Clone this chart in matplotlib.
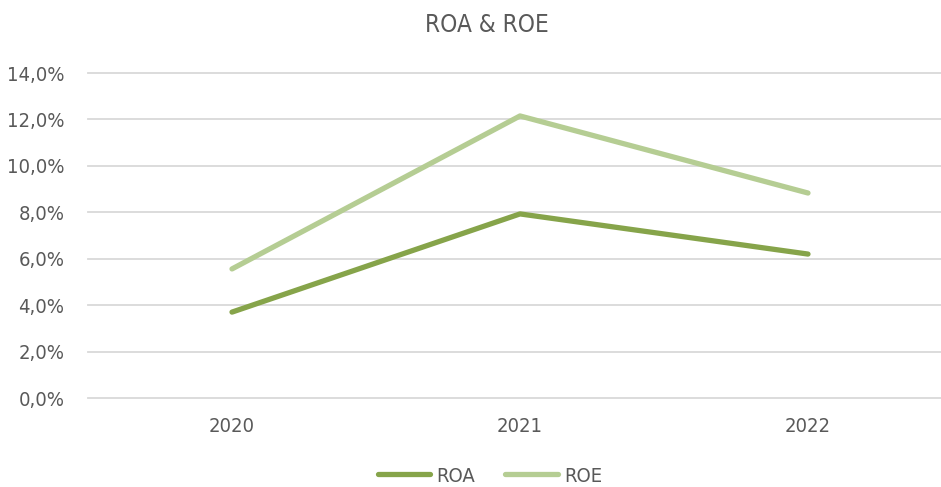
import matplotlib
matplotlib.use("Agg")
import matplotlib.pyplot as plt
from matplotlib.ticker import FuncFormatter

years = ["2020", "2021", "2022"]
roa = [3.70, 7.93, 6.20]
roe = [5.56, 12.15, 8.83]
yticks = [0, 2, 4, 6, 8, 10, 12, 14]

plt.rcParams['font.family'] = ['DejaVu Sans']
plt.rcParams['font.stretch'] = 'condensed'
txt = '#595959'

fig = plt.figure(figsize=(9.41, 4.87), dpi=100)
ax = fig.add_axes([88/941, 1-398/487, 864/941, 325/487])
x = range(len(years))
ax.plot(x, roa, color='#86A44A', lw=3.8, solid_capstyle='round', label='ROA', zorder=3)
ax.plot(x, roe, color='#B5CD93', lw=3.8, solid_capstyle='round', label='ROE', zorder=3)
ax.set_xlim(-0.5, 2.5)
ax.set_ylim(0, 14)
ax.set_yticks(yticks)
ax.yaxis.set_major_formatter(FuncFormatter(lambda v, p: f"{v:.1f}%".replace('.', ',')))
ax.set_xticks(list(x))
ax.set_xticklabels(years)
ax.tick_params(length=0, labelsize=14.5, colors=txt)
ax.tick_params(axis='x', pad=14)
ax.tick_params(axis='y', pad=17)
ax.grid(axis='y', color='#d9d9d9', lw=1.3)
for gl in ax.get_ygridlines():
    gl.set_clip_on(False)
for s in ax.spines.values():
    s.set_visible(False)
ax.set_axisbelow(True)
fig.text(487/941, 1-25/487, "ROA & ROE", ha='center', va='center', fontsize=17.5, color=txt)
leg = fig.legend(loc='center', bbox_to_anchor=(490/941, 1-476/487), ncol=2, frameon=False,
                 fontsize=14.5, labelcolor=txt, handlelength=2.6, handletextpad=0.3, columnspacing=1.5)
fig.savefig("out.png", dpi=100)
